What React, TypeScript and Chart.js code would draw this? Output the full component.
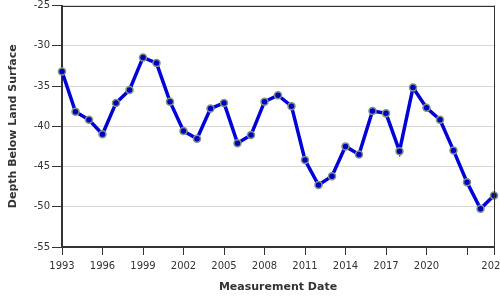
import React, { useEffect, useRef } from "react";
import { Chart, registerables } from "chart.js";

Chart.register(...registerables);

const years = [
  1993, 1994, 1995, 1996, 1997, 1998, 1999, 2000, 2001, 2002, 2003,
  2004, 2005, 2006, 2007, 2008, 2009, 2010, 2011, 2012, 2013, 2014,
  2015, 2016, 2017, 2018, 2019, 2020, 2021, 2022, 2023, 2024, 2025,
];
const depths = [
  -33.2, -38.2, -39.2, -41.0, -37.1, -35.5, -31.45, -32.15, -36.95, -40.6, -41.55,
  -37.8, -37.1, -42.1, -41.1, -36.95, -36.15, -37.5, -44.2, -47.3, -46.2, -42.5,
  -43.5, -38.1, -38.4, -43.1, -35.2, -37.7, -39.2, -43.0, -46.95, -50.25, -48.6,
];
const xTicks = [1993, 1996, 1999, 2002, 2005, 2008, 2011, 2014, 2017, 2020, 2023, 2025];
const xTickLabels = ["1993", "1996", "1999", "2002", "2005", "2008", "2011", "2014", "2017", "2020", "", "2025"];
const yTicks = [-55, -50, -45, -40, -35, -30, -25];

const xTitle = "Measurement Date";
const yTitle = "Depth Below Land Surface";

const FONT = "'DejaVu Sans', Verdana, sans-serif";

const framePlugin = {
  id: "frame",
  afterDraw(chart: any) {
    const { ctx, chartArea } = chart;
    ctx.save();
    ctx.strokeStyle = "#333";
    ctx.lineWidth = 1;
    ctx.beginPath();
    ctx.moveTo(chartArea.left, Math.round(chartArea.top) + 0.5);
    ctx.lineTo(chartArea.right, Math.round(chartArea.top) + 0.5);
    ctx.moveTo(Math.round(chartArea.right) + 0.5, chartArea.top);
    ctx.lineTo(Math.round(chartArea.right) + 0.5, chartArea.bottom);
    ctx.stroke();
    ctx.restore();
  },
};

export default function App() {
  const ref = useRef<HTMLCanvasElement>(null);
  useEffect(() => {
    document.body.style.margin = "0";
    const canvas = ref.current!;
    const chart = new Chart(canvas, {
      type: "line",
      data: {
        datasets: [
          {
            data: years.map((y, i) => ({ x: y, y: depths[i] })),
            borderColor: "#0000d8",
            borderWidth: 3.5,
            pointRadius: 3.5,
            pointBorderWidth: 1.5,
            pointBackgroundColor: "#0000c0",
            pointBorderColor: "#7f9482",
            tension: 0,
            clip: false,
          },
        ],
      },
      options: {
        animation: false,
        responsive: false,
        layout: { padding: { top: 4, right: 6, left: 0, bottom: 0 } },
        plugins: { legend: { display: false }, tooltip: { enabled: false } },
        scales: {
          x: {
            type: "linear",
            min: 1993,
            max: 2025,
            afterBuildTicks: (scale: any) => {
              scale.ticks = xTicks.map((v) => ({ value: v }));
            },
            afterFit: (scale: any) => {
              scale.paddingLeft = 0;
              scale.paddingRight = 0;
              scale.height = 53;
            },
            ticks: {
              autoSkip: false,
              maxRotation: 0,
              padding: 5,
              color: "#333",
              font: { family: FONT, size: 10 },
              callback: (v: any) => {
                const i = xTicks.indexOf(Number(v));
                return i >= 0 ? xTickLabels[i] : "";
              },
            },
            grid: {
              drawOnChartArea: false,
              drawTicks: true,
              tickLength: 8,
              tickColor: "#333",
              tickWidth: 1,
            },
            border: { display: true, color: "#333", width: 2 },
            title: {
              display: true,
              text: xTitle,
              color: "#333",
              font: { family: FONT, size: 11, weight: "bold" },
              padding: { top: 4, bottom: 6 },
            },
          },
          y: {
            min: -55,
            max: -25,
            afterBuildTicks: (scale: any) => {
              scale.ticks = yTicks.map((v) => ({ value: v }));
            },
            afterFit: (scale: any) => {
              scale.width = 62;
              scale.paddingTop = 0;
              scale.paddingBottom = 0;
            },
            ticks: {
              padding: 2,
              color: "#333",
              font: { family: FONT, size: 10 },
            },
            grid: {
              color: "#d8d8d8",
              lineWidth: 1,
              drawTicks: true,
              tickLength: 10,
              tickColor: "#333",
            },
            border: { display: true, color: "#333", width: 2 },
            title: {
              display: true,
              text: yTitle,
              color: "#333",
              font: { family: FONT, size: 11, weight: "bold" },
              padding: { top: 7, bottom: 4 },
            },
          },
        },
      },
      plugins: [framePlugin],
    } as any);
    return () => chart.destroy();
  }, []);
  return <canvas ref={ref} width={500} height={300} style={{ display: "block" }} />;
}
